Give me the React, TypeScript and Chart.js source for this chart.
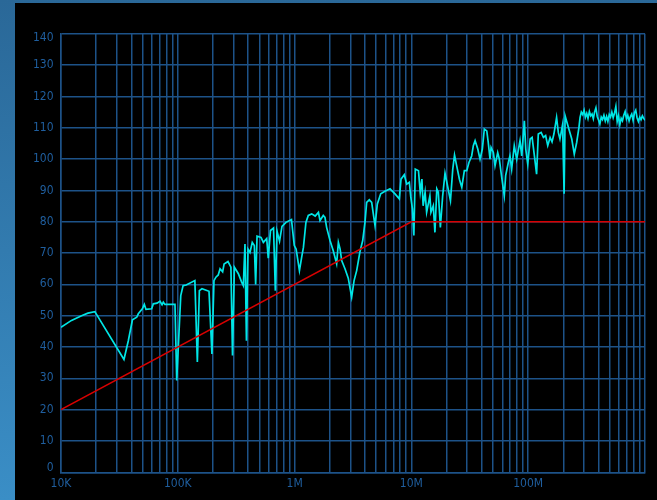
import { useEffect, useRef } from 'react';
import { Chart, registerables } from 'chart.js';

Chart.register(...registerables);

// Measured spectrum (frequency in Hz, level in dB)
const FREQ_HZ = [
  10e3, 12.3e3, 15.0e3, 17.0e3, 19.5e3, 34.6e3, 37.7e3, 40.9e3, 44.5e3, 45.9e3,
  49.7e3, 51.7e3, 53.4e3, 59.8e3, 61.7e3, 66.4e3, 70.4e3, 73.3e3, 75.2e3, 77.6e3,
  94.6e3, 97.9e3, 101e3, 106e3, 111e3, 118e3, 140e3, 147e3, 153e3, 161e3,
  185e3, 196e3, 204e3, 212e3, 222e3, 230e3, 242e3, 249e3, 269e3, 285e3,
  294e3, 305e3, 330e3, 352e3, 364e3, 376e3, 387e3, 399e3, 415e3, 434e3,
  452e3, 464e3, 477e3, 516e3, 540e3, 577e3, 595e3, 622e3, 660e3, 684e3,
  707e3, 743e3, 780e3, 844e3, 940e3, 994e3, 1.03e6, 1.10e6, 1.15e6, 1.19e6,
  1.25e6, 1.31e6, 1.40e6, 1.50e6, 1.60e6, 1.65e6, 1.76e6, 1.82e6, 1.88e6, 2.01e6,
  2.14e6, 2.29e6, 2.37e6, 2.45e6, 2.53e6, 2.70e6, 2.88e6, 3.08e6, 3.23e6, 3.40e6,
  3.63e6, 3.83e6, 4.01e6, 4.14e6, 4.36e6, 4.57e6, 4.72e6, 4.88e6, 5.11e6, 5.46e6,
  5.94e6, 6.56e6, 7.24e6, 7.88e6, 8.15e6, 8.69e6, 9.12e6, 9.60e6, 9.87e6, 10.2e6,
  10.5e6, 10.8e6, 11.5e6, 11.9e6, 12.3e6, 12.6e6, 13.1e6, 13.5e6, 14.4e6, 14.7e6,
  15.4e6, 15.9e6, 16.5e6, 17.0e6, 17.7e6, 18.5e6, 19.4e6, 20.1e6, 21.6e6, 22.6e6,
  23.4e6, 24.4e6, 25.8e6, 27.0e6, 28.4e6, 29.8e6, 31.1e6, 32.8e6, 33.9e6, 35.1e6,
  37.0e6, 38.7e6, 40.5e6, 42.1e6, 44.2e6, 45.5e6, 47.1e6, 48.1e6, 50.3e6, 52.0e6,
  54.8e6, 56.6e6, 59.3e6, 62.4e6, 64.1e6, 67.6e6, 69.8e6, 72.2e6, 76.0e6, 79.7e6,
  85.1e6, 88.0e6, 92.7e6, 95.3e6, 99.1e6, 104e6, 108e6, 113e6, 118e6, 122e6,
  129e6, 135e6, 141e6, 147e6, 154e6, 160e6, 166e6, 175e6, 181e6, 187e6,
  197e6, 203e6, 207e6, 221e6, 236e6, 248e6, 260e6, 272e6,
  278e6, 285e6, 293e6, 301e6, 309e6, 317e6, 325e6, 334e6, 343e6, 352e6,
  361e6, 370e6, 380e6, 390e6, 401e6, 411e6, 422e6, 433e6, 445e6, 457e6,
  469e6, 481e6, 494e6, 507e6, 520e6, 534e6, 548e6, 563e6, 578e6, 593e6,
  609e6, 625e6, 641e6, 658e6, 676e6, 694e6, 712e6, 731e6, 750e6, 770e6,
  791e6, 812e6, 833e6, 855e6, 878e6, 901e6, 925e6, 950e6, 975e6, 1000e6,
];

const LEVEL_DB = [
  46.3, 48.5, 50.0, 50.8, 51.3, 36.0, 42.0, 48.7, 49.5, 50.6,
  52.2, 53.6, 52.0, 52.2, 53.8, 54.0, 54.6, 53.5, 54.3, 53.6,
  53.6, 29.3, 40.0, 56.4, 59.6, 59.8, 61.2, 35.2, 58.0, 58.6,
  57.8, 37.8, 61.2, 62.3, 63.0, 65.0, 64.0, 66.5, 67.3, 65.5,
  37.3, 65.5, 63.4, 60.7, 59.6, 72.9, 42.0, 71.3, 70.2, 73.4,
  72.4, 60.0, 75.4, 75.0, 73.4, 74.6, 68.4, 77.2, 78.0, 58.0,
  77.0, 73.8, 78.5, 79.8, 80.7, 72.4, 71.3, 64.4, 68.7, 71.8,
  79.8, 82.0, 82.5, 81.8, 83.0, 80.4, 82.0, 81.4, 78.2, 74.0,
  70.8, 66.6, 73.4, 71.3, 67.6, 65.0, 62.0, 55.9, 61.2, 64.4,
  70.5, 74.0, 80.0, 86.2, 87.0, 86.2, 82.5, 78.8, 85.7, 88.9,
  89.7, 90.5, 88.9, 87.3, 93.6, 95.0, 92.0, 92.6, 88.0, 84.1,
  75.6, 96.8, 96.3, 89.4, 93.6, 85.1, 89.4, 83.0, 88.3, 83.0,
  85.1, 76.6, 90.5, 89.4, 78.2, 88.0, 95.5, 92.6, 86.7, 96.8,
  101.3, 97.9, 93.5, 91.0, 96.3, 96.3, 98.9, 101.0, 104.3, 105.9,
  103.2, 100.0, 103.2, 109.6, 109.0, 105.3, 100.0, 103.7, 102.1, 97.9,
  102.1, 100.0, 94.2, 88.3, 94.7, 98.9, 101.0, 96.8, 104.3, 100.0,
  105.9, 101.0, 112.2, 103.2, 98.4, 106.4, 106.9, 101.0, 95.2, 108.0,
  108.5, 106.9, 107.5, 104.3, 106.9, 105.5, 108.0, 113.3, 108.5, 106.4,
  111.0, 88.9, 113.8, 110.1, 106.4, 101.6, 105.3, 110.1,
  113.3, 115.0, 114.2, 115.6, 113.4, 114.6, 113.0, 115.2, 113.8, 114.4,
  112.9, 115.0, 116.4, 113.6, 112.4, 111.2, 113.4, 112.6, 114.0, 112.2,
  113.6, 112.0, 114.2, 113.4, 115.0, 113.2, 114.6, 116.8, 112.0, 113.8,
  111.0, 113.0, 112.2, 114.0, 115.2, 112.8, 114.0, 112.2, 113.6, 114.4,
  112.4, 114.8, 115.6, 113.2, 112.0, 113.4, 112.6, 113.8, 113.0, 112.4,
];

// Limit line
const LIMIT_FREQ_HZ = [1e4, 1e7, 1e9];
const LIMIT_DB = [20, 80, 80];

// Axes
const X_DECADES = [1e4, 1e5, 1e6, 1e7, 1e8, 1e9];
const X_DECADE_LABELS = ['10K', '100K', '1M', '10M', '100M', ''];
const X_MULTIPLIERS = [1, 2, 3, 4, 5, 6, 7, 8, 9];
const Y_MIN = 0;
const Y_MAX = 140;
const Y_STEP = 10;

const X_TICKS: number[] = [];
X_DECADES.forEach((d, i) => {
  if (i === X_DECADES.length - 1) X_TICKS.push(d);
  else X_MULTIPLIERS.forEach((m) => X_TICKS.push(d * m));
});

const FONT = "'Liberation Sans Narrow', 'DejaVu Sans Condensed', 'Arial Narrow', sans-serif";
const TEXT_COLOR = '#1f5e9e';
const GRID_COLOR = '#1d5288';
const CYAN = '#00e6e6';
const RED = '#d80000';

const yLabelPlugin = {
  id: 'yLabelsClamped',
  afterDraw(chart: any) {
    const s = chart.scales.y;
    const ctx = chart.ctx;
    ctx.save();
    ctx.font = `12px ${FONT}`;
    ctx.fillStyle = TEXT_COLOR;
    ctx.textAlign = 'right';
    ctx.textBaseline = 'middle';
    s.ticks.forEach((t: any) => {
      let y = s.getPixelForValue(t.value);
      y = Math.min(Math.max(y, s.top + 4), s.bottom - 4);
      ctx.fillText(String(t.label), s.right - 7.5, y);
    });
    ctx.restore();
  },
};

export default function App() {
  const ref = useRef<HTMLCanvasElement | null>(null);

  useEffect(() => {
    if (!ref.current) return;
    const spectrum = FREQ_HZ.map((f, i) => ({ x: f, y: LEVEL_DB[i] }));
    const limit = LIMIT_FREQ_HZ.map((f, i) => ({ x: f, y: LIMIT_DB[i] }));
    const chart = new Chart(ref.current, {
      type: 'line',
      data: {
        datasets: [
          {
            data: limit,
            borderColor: RED,
            borderWidth: 1.5,
            pointRadius: 0,
            tension: 0,
          },
          {
            data: spectrum,
            borderColor: CYAN,
            borderWidth: 1.7,
            pointRadius: 0,
            tension: 0,
          },
        ],
      },
      options: {
        responsive: false,
        animation: false,
        devicePixelRatio: 1,
        layout: { padding: { top: 30.8, right: 12, left: 0, bottom: 0 } },
        plugins: { legend: { display: false }, tooltip: { enabled: false } },
        scales: {
          x: {
            type: 'logarithmic',
            min: X_DECADES[0],
            max: X_DECADES[X_DECADES.length - 1],
            afterBuildTicks: (scale: any) => {
              scale.ticks = X_TICKS.map((value) => ({ value }));
            },
            afterFit: (scale: any) => {
              scale.height = 27.7;
            },
            ticks: {
              autoSkip: false,
              maxRotation: 0,
              minRotation: 0,
              padding: 4,
              color: TEXT_COLOR,
              font: { family: FONT, size: 12 },
              callback: (value: any) => {
                const v = Number(value);
                const idx = X_DECADES.findIndex((d) => Math.abs(v - d) / d < 1e-6);
                return idx >= 0 ? X_DECADE_LABELS[idx] : '';
              },
            },
            grid: { color: GRID_COLOR, lineWidth: 1.5, drawTicks: false },
            border: { color: GRID_COLOR, width: 1.5 },
          },
          y: {
            min: Y_MIN,
            max: Y_MAX,
            afterFit: (scale: any) => {
              scale.width = 46;
            },
            ticks: { stepSize: Y_STEP, display: false },
            grid: { color: GRID_COLOR, lineWidth: 1.5, drawTicks: false },
            border: { color: GRID_COLOR, width: 1.5 },
          },
        },
      },
      plugins: [yLabelPlugin],
    } as any);
    return () => chart.destroy();
  }, []);

  return (
    <div
      style={{
        position: 'fixed',
        left: 0,
        top: 0,
        width: 657,
        height: 500,
        overflow: 'hidden',
        background: 'linear-gradient(180deg, #2a6898 0%, #3a8ec6 100%)',
      }}
    >
      <div
        style={{
          position: 'absolute',
          left: 15,
          top: 3,
          width: 642,
          height: 497,
          background: '#000',
        }}
      >
        <canvas ref={ref} width={642} height={497} style={{ display: 'block', width: 642, height: 497 }} />
      </div>
    </div>
  );
}
